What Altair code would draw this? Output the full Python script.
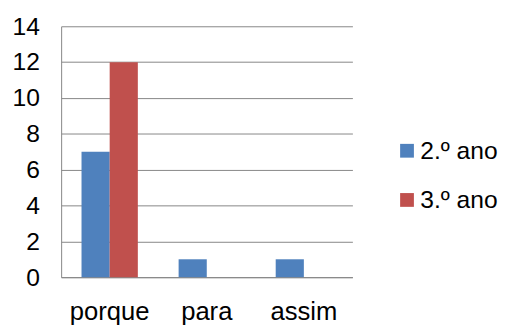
import altair as alt
import pandas as pd

categories = ["porque", "para", "assim"]
series = ["2.º ano", "3.º ano"]
values_2 = [7, 1, 1]
values_3 = [12, 0, 0]
colors = ["#4F81BD", "#C0504D"]
y_ticks = [0, 2, 4, 6, 8, 10, 12, 14]

rows = []
for c, v in zip(categories, values_2):
    rows.append({"cat": c, "serie": series[0], "val": v})
for c, v in zip(categories, values_3):
    rows.append({"cat": c, "serie": series[1], "val": v})
df = pd.DataFrame(rows)

FONT = "Liberation Sans"

chart = alt.Chart(df).mark_bar().encode(
    x=alt.X("cat:N", sort=categories, title=None,
            scale=alt.Scale(paddingInner=0.42, paddingOuter=0.21),
            axis=alt.Axis(labelAngle=0, ticks=False, labelPadding=22,
                          labelFontSize=26, labelFont=FONT, labelColor="#000000",
                          domainColor="#868686", domainWidth=1, grid=False)),
    xOffset=alt.XOffset("serie:N", sort=series),
    y=alt.Y("val:Q", title=None,
            scale=alt.Scale(domain=[0, 14], nice=False),
            axis=alt.Axis(values=y_ticks, ticks=False, labelPadding=22,
                          labelFontSize=25, labelFont=FONT, labelColor="#000000",
                          domainColor="#868686", domainWidth=1,
                          gridColor="#868686", gridWidth=1)),
    color=alt.Color("serie:N", sort=series,
                    scale=alt.Scale(domain=series, range=colors),
                    legend=alt.Legend(title=None, orient="none", legendX=339, legendY=114,
                                      symbolType="square", symbolSize=196,
                                      symbolStrokeWidth=0, labelFontSize=25,
                                      labelFont=FONT, labelColor="#000000",
                                      labelOffset=1, rowPadding=24, labelLimit=300)),
).properties(
    width=296, height=255,
    padding={"left": 54, "top": 16, "right": 150, "bottom": 46},
    autosize=alt.AutoSizeParams(type="none"),
).configure_view(stroke=None)

chart.save("out.html", embed_options={"renderer": "svg", "actions": False})
